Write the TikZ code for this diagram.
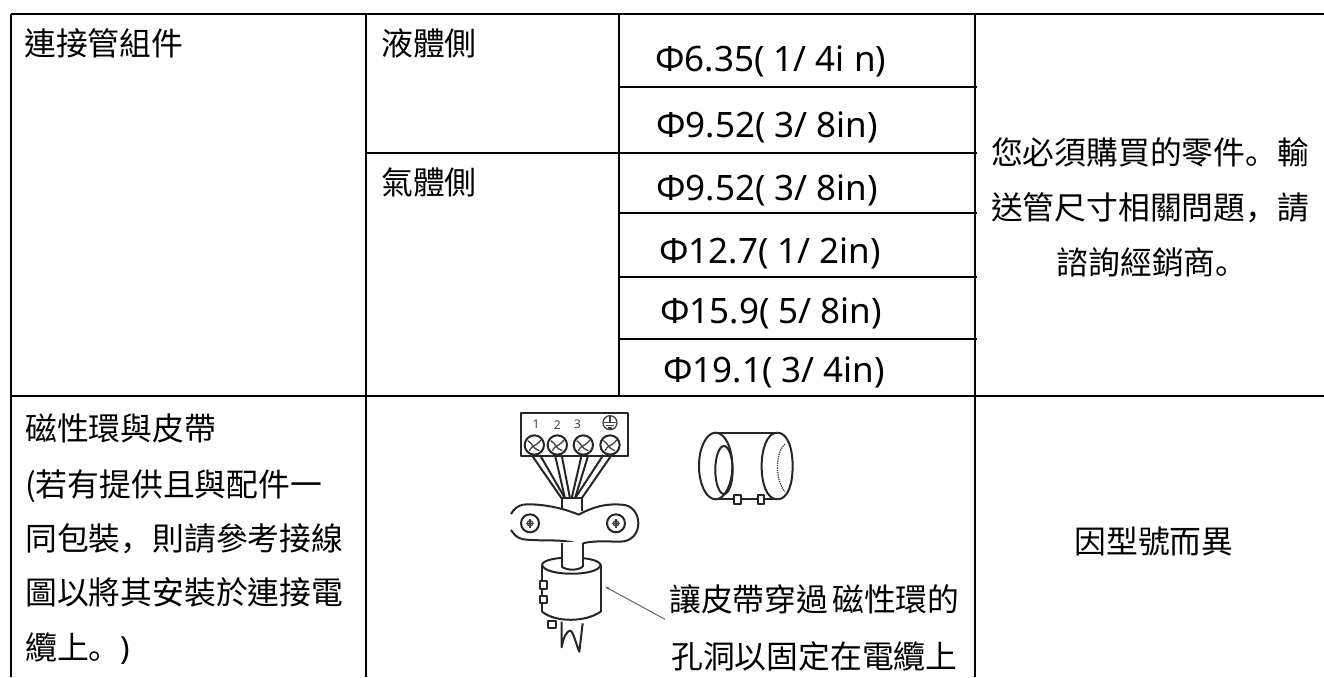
\documentclass[tikz,border=0pt]{standalone}
\usepackage{fontspec}
\setmainfont{Noto Sans CJK TC}
\newfontfamily\latinf{Noto Sans}
\newfontfamily\punct{Noto Sans CJK SC}
\usetikzlibrary{arrows.meta}
\tikzset{
  rule/.style={line width=1.7pt,black},
  cjk/.style={inner sep=0pt,anchor=base west,font=\fontsize{31.8}{32}\selectfont},
  cjkc/.style={inner sep=0pt,anchor=base,font=\fontsize{31.8}{32}\selectfont},
  size/.style={inner sep=0pt,anchor=base west,font=\latinf\fontsize{35}{35}\selectfont},
  ink/.style={line width=2pt,black!85,line join=round},
  thin ink/.style={line width=1.3pt,black!75},
  digit/.style={inner sep=0pt,font=\latinf\fontsize{12}{12}\selectfont,text=black!75},
}
\begin{document}
\begin{tikzpicture}[x=1pt,y=-1pt]
\useasboundingbox (0,0) rectangle (1324,677);
\fill[white] (0,0) rectangle (1324,677);
% table rules
\draw[rule] (11,14) -- (1324,14);
\draw[rule] (11,396) -- (1324,396);
\draw[rule] (11,14) -- (11,677);
\draw[rule] (366,14) -- (366,677);
\draw[rule] (619,14) -- (619,396);
\draw[rule] (975,14) -- (975,677);
\draw[rule] (619,87) -- (977,87);
\draw[rule] (366,153) -- (977,153);
\draw[rule] (619,213) -- (977,213);
\draw[rule] (619,277) -- (977,277);
\draw[rule] (619,339) -- (977,339);
% texts
\node[cjk] (a1) at (24,56) {連接管組件};
\node[cjk] (a2) at (381,56) {液體側};
\node[cjk] (a3) at (381,194) {氣體側};
\node[size] (s1) at (655,71) {Φ6.35( 1/ 4i n)};
\node[size] (s2) at (656,137) {Φ9.52( 3/ 8in)};
\node[size] (s3) at (656,200) {Φ9.52( 3/ 8in)};
\node[size] (s4) at (659,263) {Φ12.7( 1/ 2in)};
\node[size] (s5) at (660,323) {Φ15.9( 5/ 8in)};
\node[size] (s6) at (663,382) {Φ19.1( 3/ 4in)};
\node[cjkc] (r1) at (1150,164) {您必須購買的零件{\punct 。}輸};
\node[cjkc] (r2) at (1150,219) {送管尺寸相關問題{\punct ，}請};
\node[cjkc] (r3) at (1152,274) {諮詢經銷商{\punct 。}};
\node[cjkc] (r4) at (1154,553) {因型號而異};
\node[cjk] (l1) at (25,440) {磁性環與皮帶};
\node[cjk] (l2) at (25,496) {(若有提供且與配件一};
\node[cjk] (l3) at (25,550) {同包裝{\punct ，}則請參考接線};
\node[cjk] (l4) at (25,604) {圖以將其安裝於連接電};
\node[cjk] (l5) at (25,659) {纜上{\punct 。}{\latinf )}};
\node[cjk] (c1) at (669,611) {讓皮帶穿過 \hspace{-3pt}磁性環的};
\node[cjk] (c2) at (671,668) {孔洞以固定在電纜上};
% illustration, in zoom coordinates
\begin{scope}[shift={(480,390)},x=0.3333pt,y=-0.3333pt]
 % terminal block
 \draw[ink] (122,197) -- (122,70) -- (445,70) -- (445,197) -- cycle;
 \node[digit] (n1) at (168,104) {1};
 \node[digit] (n2) at (232,104) {2};
 \node[digit] (n3) at (293,104) {3};
 \draw[thin ink] (390,98) circle (21);
 \draw[thin ink] (390,76) -- (390,98) (372,98) -- (408,98) (378,106) -- (402,106) (385,114) -- (395,114);
 % wires
 \foreach \a/\b in {155/245,180/255, 225/255,245/270, 305/275,325/285, 370/285,395/305}
   \draw[ink] (\a,195) -- (\b,325);
 % screws
 \foreach \x in {163,232,310,390}{
   \fill[white] (\x,165) circle (29);
   \draw[ink] (\x,165) circle (29);
   \draw[thin ink] (\x-20,152) .. controls (\x,165) and (\x-10,172) .. (\x+15,182);
   \draw[thin ink] (\x-15,182) .. controls (\x-8,165) and (\x+5,170) .. (\x+20,150);
 }
 % cable and clamp
 \fill[white] (245,325) rectangle (305,370);
 \draw[ink] (245,325) -- (305,325) -- (305,362);
 \draw[ink] (245,325) -- (245,356);
 \draw[ink,fill=white] (130,344) .. controls (170,340) and (240,350) .. (296,374)
   .. controls (340,350) and (380,340) .. (425,344)
   .. controls (460,345) and (475,375) .. (475,400)
   .. controls (475,430) and (455,455) .. (420,455)
   .. controls (380,455) and (340,450) .. (296,463)
   .. controls (250,445) and (190,455) .. (130,448)
   .. controls (110,445) and (100,430) .. (93,420);
 \draw[ink] (93,372) .. controls (100,358) and (115,346) .. (130,344);
 \foreach \x in {150,408}{
   \draw[ink] (\x,400) circle (27);
   \draw[thin ink] (\x-13,400) -- (\x+13,400) (\x,387) -- (\x,413);
   \draw[thin ink] (\x,400) circle (8);
 }
 % ferrite core
 \draw[ink] (186,525) .. controls (190,495) and (355,495) .. (362,525)
   .. controls (355,560) and (195,560) .. (186,525);
 \fill[white] (245,455) rectangle (308,535);
 \draw[ink] (245,460) -- (245,530) (308,460) -- (308,530);
 \draw[ink] (245,530) .. controls (260,542) and (295,542) .. (308,530);
 \draw[ink] (186,525) -- (186,665);
 \draw[ink] (362,525) -- (362,665);
 \draw[ink] (186,665) .. controls (230,700) and (320,695) .. (362,665);
 \foreach \x/\y in {190/585,190/628,216/703}
   \draw[ink,fill=white] (\x-11,\y-11) rectangle (\x+11,\y+11);
 \draw[ink] (245,695) -- (245,772) .. controls (250,740) and (262,722) .. (270,722)
   .. controls (280,722) and (290,770) .. (298,785) -- (308,700);
 % arrow
 \coordinate (tailpt) at (555,688);
 \coordinate (headpt) at (375,590);
 \draw[line width=1pt,black!60,-{Stealth[length=5pt,width=3pt]}] (tailpt) -- (headpt);
 % loose core
 \draw[ink] (707,128) -- (892,128) (707,328) -- (892,328);
 \draw[ink,fill=white] (707,228) ellipse (50 and 100);
 \draw[ink] (732,240) ellipse (26 and 72);
 \draw[ink] (892,128) .. controls (860,128) and (845,180) .. (845,228)
   .. controls (845,280) and (860,328) .. (892,328);
 \draw[ink] (892,128) .. controls (925,128) and (938,180) .. (938,228)
   .. controls (938,280) and (925,328) .. (892,328);
 \draw[thin ink,densely dotted] (915,162) .. controls (885,190) and (885,270) .. (915,305);
 \foreach \x in {772,843}
   \draw[ink,fill=white] (\x-10,315) rectangle (\x+10,343);
\end{scope}
\end{tikzpicture}
\end{document}
